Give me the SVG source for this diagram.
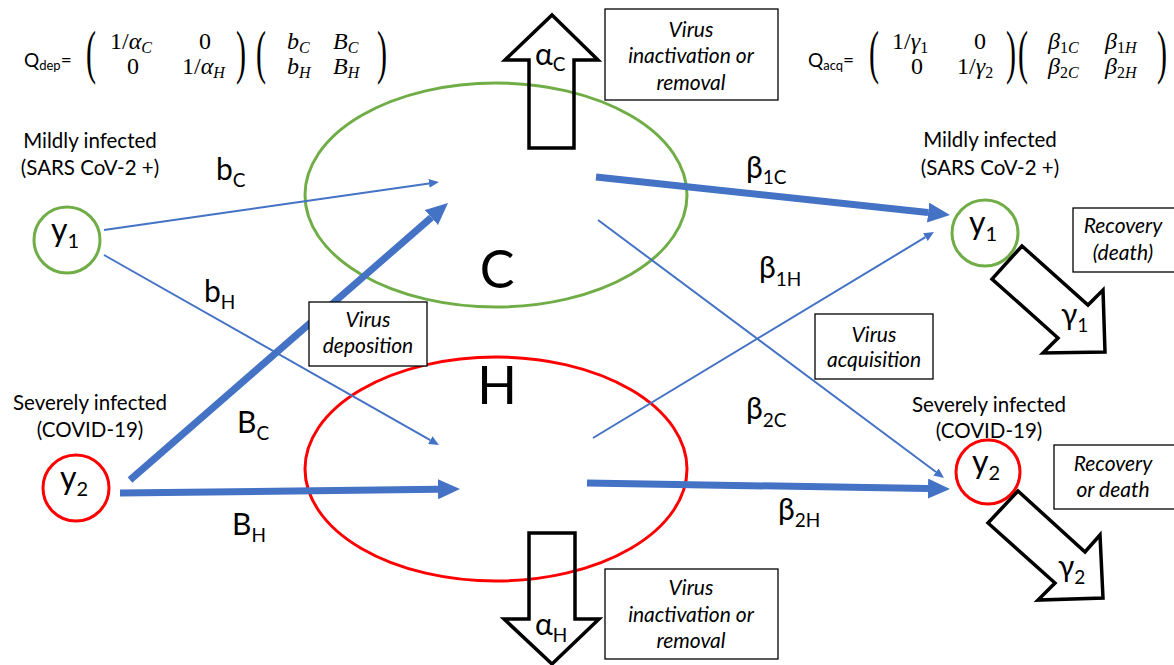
<svg xmlns="http://www.w3.org/2000/svg" width="1174" height="665" viewBox="0 0 1174 665">
<defs>
<style>
.t{font-family:Lato,"Open Sans","DejaVu Sans",sans-serif;fill:#000}
.lab{font-size:20.5px;text-anchor:middle}
.big{font-size:30px}
.sub{font-size:19px}
.box{fill:#fff;stroke:#000;stroke-width:1.3}
.bt{font-family:Lato,"Open Sans","DejaVu Sans",sans-serif;font-style:italic;font-size:21px;text-anchor:middle}
.fat{fill:none;stroke:#000;stroke-width:3.5;stroke-linejoin:miter}
.thin{stroke:#4472C4;stroke-width:2;fill:none}
.thick{stroke:#4472C4;stroke-width:7;fill:none}
.m{font-family:"Liberation Serif","DejaVu Serif",serif;font-size:24px;fill:#000}
.mi{font-style:italic}
.ms{font-size:16px}
.par{font-family:"Liberation Serif","DejaVu Serif",serif;font-size:30px}
</style>
<marker id="hs" markerUnits="userSpaceOnUse" viewBox="0 -4.5 10 9" refX="0" refY="0" markerWidth="10" markerHeight="9" orient="auto"><path d="M0,-4.5 L10,0 L0,4.5 z" fill="#4472C4"/></marker>
<marker id="hl" markerUnits="userSpaceOnUse" viewBox="0 -10 22 20" refX="0" refY="0" markerWidth="22" markerHeight="20" orient="auto"><path d="M0,-10 L22,0 L0,10 z" fill="#4472C4"/></marker>
</defs>
<rect width="1174" height="665" fill="#fff"/>

<g id="compartment-C">
<ellipse cx="496" cy="195" rx="191" ry="112" fill="none" stroke="#70AD47" stroke-width="3"/>
<text class="t" x="497" y="288" font-size="52" text-anchor="middle">C</text>
</g>
<g id="compartment-H">
<ellipse cx="496" cy="469" rx="191" ry="112" fill="none" stroke="#FF0000" stroke-width="3"/>
<text class="t" x="497" y="404" font-size="52" text-anchor="middle">H</text>
</g>

<g id="connectors">
<line class="thin" x1="104" y1="230" x2="429" y2="183.4" marker-end="url(#hs)"/>
<line class="thick" x1="130" y1="480" x2="431.4" y2="217.5" marker-end="url(#hl)"/>
<line class="thin" x1="104" y1="255" x2="430.3" y2="440.1" marker-end="url(#hs)"/>
<line class="thick" x1="120" y1="493" x2="438" y2="489.3" marker-end="url(#hl)"/>
<line class="thick" x1="596" y1="177" x2="928.1" y2="212.6" marker-end="url(#hl)"/>
<line class="thin" x1="593" y1="438" x2="925.4" y2="237.2" marker-end="url(#hs)"/>
<line class="thin" x1="598" y1="220" x2="936" y2="472" marker-end="url(#hs)"/>
<line class="thick" x1="587" y1="483" x2="928" y2="488.6" marker-end="url(#hl)"/>
<text class="t big" x="216" y="180">b<tspan class="sub" dy="7">C</tspan></text>
<text class="t big" x="204" y="302">b<tspan class="sub" dy="7">H</tspan></text>
<text class="t big" x="237" y="433">B<tspan class="sub" dy="7">C</tspan></text>
<text class="t big" x="232" y="535">B<tspan class="sub" dy="7">H</tspan></text>
<text class="t big" x="746" y="178">β<tspan class="sub" dy="6">1C</tspan></text>
<text class="t big" x="759" y="278">β<tspan class="sub" dy="8">1H</tspan></text>
<text class="t big" x="746" y="419">β<tspan class="sub" dy="8">2C</tspan></text>
<text class="t big" x="778" y="520">β<tspan class="sub" dy="7">2H</tspan></text>
</g>

<g id="alpha-C">
<polygon class="fat" points="552,15 598,60 574,60 574,148 529,148 529,60 505,60"/>
<text class="t big" x="535" y="65">α<tspan class="sub" dy="6">C</tspan></text>
</g>
<g id="alpha-H">
<polygon class="fat" points="529,533 575,533 575,619 599,619 552,664 504,619 529,619"/>
<text class="t big" x="535" y="635">α<tspan class="sub" dy="7">H</tspan></text>
</g>

<g id="box-inactivation-top">
<rect class="box" x="605" y="9" width="173" height="91"/>
<text class="bt" x="691" y="37">Virus</text>
<text class="bt" x="691" y="63">inactivation or</text>
<text class="bt" x="691" y="90">removal</text>
</g>
<g id="box-inactivation-bottom">
<rect class="box" x="605" y="569" width="173" height="90"/>
<text class="bt" x="691" y="595">Virus</text>
<text class="bt" x="691" y="622">inactivation or</text>
<text class="bt" x="691" y="648">removal</text>
</g>
<g id="box-deposition">
<rect class="box" x="309" y="302" width="118" height="64"/>
<text class="bt" x="368" y="327">Virus</text>
<text class="bt" x="368" y="353">deposition</text>
</g>
<g id="box-acquisition">
<rect class="box" x="815" y="314" width="118" height="65"/>
<text class="bt" x="874" y="342">Virus</text>
<text class="bt" x="874" y="367">acquisition</text>
</g>
<g id="box-recovery-1">
<rect class="box" x="1073" y="208" width="105" height="64"/>
<text class="bt" x="1123" y="233">Recovery</text>
<text class="bt" x="1123" y="260">(death)</text>
</g>
<g id="box-recovery-2">
<rect class="box" x="1054" y="445" width="124" height="64"/>
<text class="bt" x="1113" y="471">Recovery</text>
<text class="bt" x="1113" y="497">or death</text>
</g>

<g id="node-y1-left">
<text class="t lab" x="90" y="148">Mildly infected</text>
<text class="t lab" x="90" y="175">(SARS CoV-2 +)</text>
<circle cx="67" cy="240" r="33" fill="none" stroke="#70AD47" stroke-width="3"/>
<text class="t" x="51" y="241" font-size="32">y<tspan font-size="20" dy="7">1</tspan></text>
</g>
<g id="node-y2-left">
<text class="t lab" x="90" y="410">Severely infected</text>
<text class="t lab" x="90" y="437">(COVID-19)</text>
<circle cx="76" cy="488" r="33" fill="none" stroke="#FF0000" stroke-width="3"/>
<text class="t" x="60" y="489" font-size="32">y<tspan font-size="20" dy="7">2</tspan></text>
</g>
<g id="node-y1-right">
<text class="t lab" x="990" y="147">Mildly infected</text>
<text class="t lab" x="990" y="175">(SARS CoV-2 +)</text>
<circle cx="985" cy="233" r="33" fill="none" stroke="#70AD47" stroke-width="3"/>
<text class="t" x="969" y="234" font-size="32">y<tspan font-size="20" dy="7">1</tspan></text>
</g>
<g id="node-y2-right">
<text class="t lab" x="989" y="412">Severely infected</text>
<text class="t lab" x="989" y="438">(COVID-19)</text>
<circle cx="988" cy="472" r="32" fill="none" stroke="#FF0000" stroke-width="3"/>
<text class="t" x="972" y="473" font-size="32">y<tspan font-size="20" dy="7">2</tspan></text>
</g>

<g id="gamma-1">
<polygon class="fat" points="1022,246 1088,305 1103,290 1105,352 1043,353 1058,338 992,279"/>
<text class="t" x="1061" y="325" font-size="30">γ<tspan font-size="19" dy="7">1</tspan></text>
</g>
<g id="gamma-2">
<polygon class="fat" points="1018,491 1085,552 1100,535 1103,598 1038,600 1055,583 988,523"/>
<text class="t" x="1058" y="577" font-size="30">γ<tspan font-size="19" dy="7">2</tspan></text>
</g>

<g id="eq-dep">
<text class="t" x="24" y="67" font-size="19">Q<tspan font-size="13" dy="3">dep</tspan><tspan dy="-3">=</tspan></text>
<text class="par" transform="translate(86,72) scale(1,2)">(</text>
<text class="m" x="110" y="49">1/<tspan class="mi">α</tspan><tspan class="mi ms" dy="4">C</tspan></text>
<text class="m" x="205" y="49" text-anchor="middle">0</text>
<text class="m" x="133" y="74" text-anchor="middle">0</text>
<text class="m" x="182" y="74">1/<tspan class="mi">α</tspan><tspan class="mi ms" dy="4">H</tspan></text>
<text class="par" transform="translate(236,72) scale(1,2)">)</text>
<text class="par" transform="translate(256,72) scale(1,2)">(</text>
<text class="m mi" x="287" y="49">b<tspan class="ms" dy="4">C</tspan></text>
<text class="m mi" x="333" y="49">B<tspan class="ms" dy="4">C</tspan></text>
<text class="m mi" x="287" y="74">b<tspan class="ms" dy="4">H</tspan></text>
<text class="m mi" x="333" y="74">B<tspan class="ms" dy="4">H</tspan></text>
<text class="par" transform="translate(377,72) scale(1,2)">)</text>
</g>
<g id="eq-acq">
<text class="t" x="808" y="67" font-size="19">Q<tspan font-size="13" dy="3">acq</tspan><tspan dy="-3">=</tspan></text>
<text class="par" transform="translate(869,72) scale(1,2)">(</text>
<text class="m" x="892" y="49">1/<tspan class="mi">γ</tspan><tspan class="ms" dy="4">1</tspan></text>
<text class="m" x="980" y="49" text-anchor="middle">0</text>
<text class="m" x="917" y="74" text-anchor="middle">0</text>
<text class="m" x="957" y="74">1/<tspan class="mi">γ</tspan><tspan class="ms" dy="4">2</tspan></text>
<text class="par" transform="translate(1006,72) scale(1,2)">)</text>
<text class="par" transform="translate(1018,72) scale(1,2)">(</text>
<text class="m" x="1048" y="49"><tspan class="mi">β</tspan><tspan class="ms" dy="4">1</tspan><tspan class="ms mi">C</tspan></text>
<text class="m" x="1105" y="49"><tspan class="mi">β</tspan><tspan class="ms" dy="4">1</tspan><tspan class="ms mi">H</tspan></text>
<text class="m" x="1048" y="74"><tspan class="mi">β</tspan><tspan class="ms" dy="4">2</tspan><tspan class="ms mi">C</tspan></text>
<text class="m" x="1105" y="74"><tspan class="mi">β</tspan><tspan class="ms" dy="4">2</tspan><tspan class="ms mi">H</tspan></text>
<text class="par" transform="translate(1157,72) scale(1,2)">)</text>
</g>
</svg>
